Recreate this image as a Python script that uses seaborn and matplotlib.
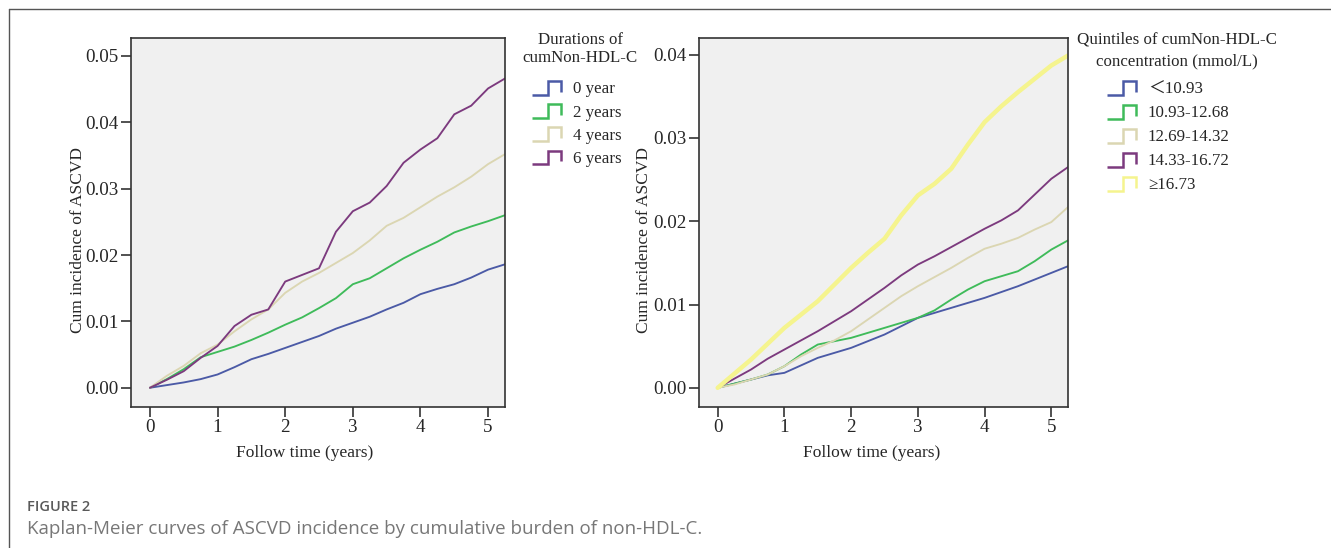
#!/usr/bin/env python3

import pandas as pd
import matplotlib
matplotlib.use("Agg")
import matplotlib.pyplot as plt
from matplotlib.lines import Line2D
from matplotlib.legend_handler import HandlerLine2D
import seaborn as sns

time = [0, 0.25, 0.5, 0.75, 1, 1.25, 1.5, 1.75, 2, 2.25, 2.5, 2.75, 3,
        3.25, 3.5, 3.75, 4, 4.25, 4.5, 4.75, 5, 5.25]

# left panel: durations of cumNon-HDL-C
dur_labels = ["0 year", "2 years", "4 years", "6 years"]
dur_0 = [0, 0.0004, 0.0008, 0.0013, 0.0020, 0.0031, 0.0043, 0.0051, 0.0060, 0.0069,
         0.0078, 0.0089, 0.0098, 0.0107, 0.0118, 0.0128, 0.0141, 0.0149, 0.0156,
         0.0166, 0.0178, 0.0186]
dur_2 = [0, 0.0013, 0.0028, 0.0046, 0.0054, 0.0062, 0.0072, 0.0083, 0.0095, 0.0106,
         0.0120, 0.0135, 0.0156, 0.0165, 0.0180, 0.0195, 0.0208, 0.0220, 0.0234,
         0.0243, 0.0251, 0.0260]
dur_4 = [0, 0.0018, 0.0033, 0.0052, 0.0065, 0.0085, 0.0103, 0.0118, 0.0143, 0.0160,
         0.0173, 0.0188, 0.0203, 0.0222, 0.0244, 0.0256, 0.0272, 0.0288, 0.0302,
         0.0318, 0.0337, 0.0352]
dur_6 = [0, 0.0012, 0.0025, 0.0045, 0.0063, 0.0093, 0.0110, 0.0118, 0.0160, 0.0170,
         0.0180, 0.0235, 0.0266, 0.0279, 0.0304, 0.0339, 0.0359, 0.0376, 0.0412,
         0.0425, 0.0451, 0.0466]

# right panel: quintiles of cumNon-HDL-C concentration
qnt_labels = ["\uff1c10.93", "10.93-12.68", "12.69-14.32", "14.33-16.72", "\u226516.73"]
qnt_1 = [0, 0.0005, 0.0010, 0.0015, 0.0018, 0.0027, 0.0036, 0.0042, 0.0048, 0.0056,
         0.0064, 0.0074, 0.0084, 0.0090, 0.0096, 0.0102, 0.0108, 0.0115, 0.0122,
         0.0130, 0.0138, 0.0146]
qnt_2 = [0, 0.0005, 0.0010, 0.0016, 0.0026, 0.0040, 0.0052, 0.0056, 0.0060, 0.0066,
         0.0072, 0.0078, 0.0084, 0.0093, 0.0106, 0.0118, 0.0128, 0.0134, 0.0140,
         0.0152, 0.0166, 0.0177]
qnt_3 = [0, 0.0004, 0.0010, 0.0016, 0.0026, 0.0038, 0.0048, 0.0057, 0.0068, 0.0082,
         0.0096, 0.0110, 0.0122, 0.0133, 0.0144, 0.0156, 0.0167, 0.0173, 0.0180,
         0.0190, 0.0199, 0.0217]
qnt_4 = [0, 0.0011, 0.0022, 0.0035, 0.0046, 0.0057, 0.0068, 0.0080, 0.0092, 0.0106,
         0.0120, 0.0135, 0.0148, 0.0158, 0.0169, 0.0180, 0.0191, 0.0201, 0.0213,
         0.0232, 0.0251, 0.0265]
qnt_5 = [0, 0.0017, 0.0034, 0.0053, 0.0072, 0.0088, 0.0104, 0.0124, 0.0144, 0.0162,
         0.0179, 0.0207, 0.0231, 0.0245, 0.0263, 0.0292, 0.0319, 0.0338, 0.0355,
         0.0371, 0.0387, 0.0399]

dur_colors = ["#4b5aa6", "#3fbb5a", "#dbd6b2", "#7c3a7e"]
qnt_colors = ["#4b5aa6", "#3fbb5a", "#dbd6b2", "#7c3a7e", "#f5f48e"]

W, H = 1331, 548


def fx(px):
    return px / W


def fy(py):
    return 1 - py / H


def long_table(series, labels):
    rows = []
    for vals, lab in zip(series, labels):
        for t, v in zip(time, vals):
            rows.append({"time": t, "cum": v, "group": lab})
    return pd.DataFrame(rows)


class StepHandler(HandlerLine2D):
    # legend key drawn as a little step: _|~|
    def create_artists(self, legend, orig_handle, xdescent, ydescent,
                       width, height, fontsize, trans):
        x0 = -xdescent
        y0 = -ydescent + 0.1 * height
        h = height * 0.78
        xm = x0 + 0.55 * width
        xs = [x0, xm, xm, x0 + width, x0 + width]
        ys = [y0, y0, y0 + h, y0 + h, y0 + 0.2 * h]
        line = Line2D(xs, ys, color=orig_handle.get_color(), lw=1.8,
                      solid_joinstyle="miter", solid_capstyle="butt",
                      transform=trans)
        return [line]


sns.set_theme(style="ticks")
plt.rcParams["font.family"] = ["Liberation Serif", "DejaVu Serif", "Noto Sans CJK SC"]

fig = plt.figure(figsize=(W / 100, H / 100), dpi=100)
ax1 = fig.add_axes([fx(131), fy(407), fx(505) - fx(131), fy(38) - fy(407)])
ax2 = fig.add_axes([fx(699), fy(407), fx(1068) - fx(699), fy(38) - fy(407)])

panels = [
    (ax1, [dur_0, dur_2, dur_4, dur_6], dur_labels, dur_colors,
     (-0.0029, 0.0527), [0, 0.01, 0.02, 0.03, 0.04, 0.05],
     (-0.12, 0.4526), (0.465, -0.103)),
    (ax2, [qnt_1, qnt_2, qnt_3, qnt_4, qnt_5], qnt_labels, qnt_colors,
     (-0.0023, 0.0420), [0, 0.01, 0.02, 0.03, 0.04],
     (-0.128, 0.4526), (0.469, -0.103)),
]

for ax, series, labels, colors, ylim, yticks, ylab_xy, xlab_xy in panels:
    df = long_table(series, labels)
    sns.lineplot(data=df, x="time", y="cum", hue="group", hue_order=labels,
                 palette=colors, linewidth=1.35, legend=False, ax=ax)
    # the top quintile curve is drawn thicker in the reference
    for line, lab in zip(ax.lines, labels):
        if lab.startswith("\u2265"):
            line.set_linewidth(3.2)
    ax.set_facecolor("#f0f0f0")
    ax.set_xlim(-0.28, 5.25)
    ax.set_ylim(*ylim)
    ax.set_xticks([0, 1, 2, 3, 4, 5])
    ax.set_yticks(yticks)
    ax.set_yticklabels([f"{v:.2f}" for v in yticks])
    ax.tick_params(axis="both", labelsize=13.7, length=7, width=1.1,
                   color="#222222", direction="out", pad=2)
    for sp in ax.spines.values():
        sp.set_color("#333333")
        sp.set_linewidth(1.2)
    ax.set_xlabel("Follow time (years)", fontsize=12.5)
    ax.set_ylabel("Cum incidence of ASCVD", fontsize=12.5)
    ax.yaxis.set_label_coords(*ylab_xy)
    ax.xaxis.set_label_coords(*xlab_xy)

leg_kw = dict(frameon=False, fontsize=12.2, handlelength=1.7,
              handleheight=1.2, handletextpad=0.72,
              borderaxespad=0, borderpad=0, loc="upper left")

h1 = [Line2D([], [], color=c) for c in dur_colors]
fig.legend(h1, dur_labels, bbox_to_anchor=(fx(532), fy(79)), labelspacing=0.28,
           handler_map={Line2D: StepHandler()}, **leg_kw)
fig.text(fx(580), fy(40), "Durations of", fontsize=12.2, ha="center", va="center")
fig.text(fx(580), fy(58), "cumNon-HDL-C", fontsize=12.2, ha="center", va="center")

h2 = [Line2D([], [], color=c) for c in qnt_colors]
fig.legend(h2, qnt_labels, bbox_to_anchor=(fx(1107), fy(79)), labelspacing=0.33,
           handler_map={Line2D: StepHandler()}, **leg_kw)
fig.text(fx(1177), fy(39), "Quintiles of cumNon-HDL-C", fontsize=12.2,
         ha="center", va="center")
fig.text(fx(1177), fy(61), "concentration (mmol/L)", fontsize=12.2,
         ha="center", va="center")

# page frame lines (top and left)
fig.add_artist(Line2D([fx(9), 1], [fy(9), fy(9)],
                      transform=fig.transFigure, color="#555555", lw=1.0))
fig.add_artist(Line2D([fx(9), fx(9)], [0, fy(9)],
                      transform=fig.transFigure, color="#555555", lw=1.0))

fig.text(fx(27), fy(507), "FIGURE 2", family="Open Sans", fontsize=10.5,
         fontweight="semibold", color="#5a5a5a", va="center", ha="left")
fig.text(fx(27), fy(529),
         "Kaplan-Meier curves of ASCVD incidence by cumulative burden of non-HDL-C.",
         family="Open Sans", fontsize=13.5, color="#777777", va="center", ha="left")

fig.savefig("out.png", dpi=100)
plt.close(fig)
